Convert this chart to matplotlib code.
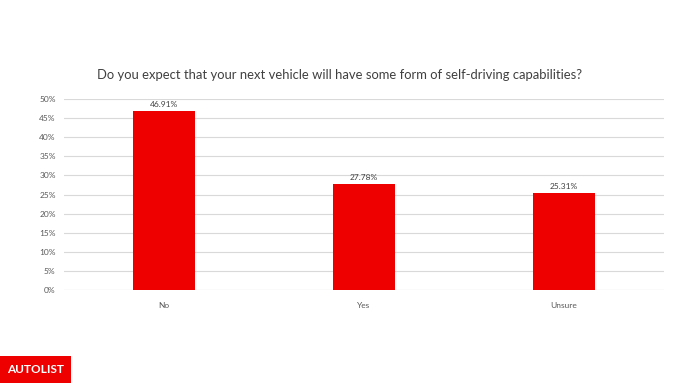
import matplotlib
matplotlib.use("Agg")
import matplotlib.pyplot as plt
from matplotlib.patches import Rectangle

categories = ["No", "Yes", "Unsure"]
values = [46.91, 27.78, 25.31]
yticks = [0, 5, 10, 15, 20, 25, 30, 35, 40, 45, 50]
title = "Do you expect that your next vehicle will have some form of self-driving capabilities?"

plt.rcParams['font.family'] = ['Lato', 'DejaVu Sans']

fig = plt.figure(figsize=(6.85, 3.85), dpi=100)
ax = fig.add_axes([64/685, 1-290/385, 600/685, 191/385])

x = range(len(categories))
bars = ax.bar(x, values, width=0.31, color="#EE0000", zorder=3)
for xi, v in zip(x, values):
    ax.text(xi, v + 0.8, f"{v:.2f}%", ha="center", va="bottom", fontsize=6, color="#404040")

ax.set_xlim(-0.5, len(categories) - 0.5)
ax.set_ylim(0, 50)
ax.set_yticks(yticks)
ax.set_yticklabels([f"{t}%" for t in yticks], fontsize=6, color="#595959")
ax.set_xticks(list(x))
ax.set_xticklabels(categories, fontsize=6, color="#595959")
ax.tick_params(axis="y", length=0, pad=6)
ax.tick_params(axis="x", length=0, pad=9)
ax.yaxis.grid(True, color="#D9D9D9", linewidth=0.8, zorder=0)
for s in ax.spines.values():
    s.set_visible(False)
ax.axhline(0, color="#D9D9D9", linewidth=0.8, zorder=2)

fig.text(340/685, 1-75/385, title, ha="center", va="center", fontsize=9.4, color="#404040")

# logo
fig.patches.append(Rectangle((0, 2/385), 71/685, 27/385, transform=fig.transFigure,
                             facecolor="#EE0000", edgecolor="none"))
fig.text(35.5/685, 15.5/385, "AUTOLIST", ha="center", va="center", fontsize=8.5,
         fontweight="bold", color="white")

fig.savefig("out.png", dpi=100)
